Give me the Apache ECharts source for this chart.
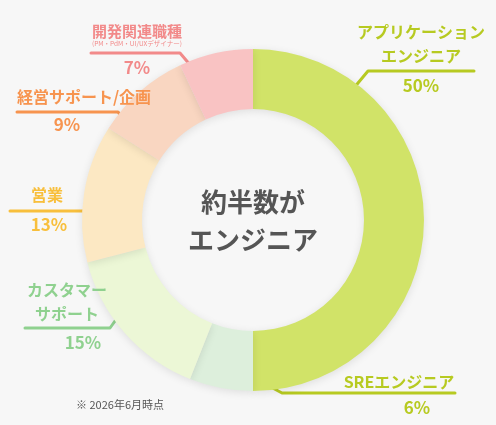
<!DOCTYPE html>
<html><head><meta charset="utf-8">
<script src="https://cdn.jsdelivr.net/npm/echarts@6/dist/echarts.min.js"></script>
<style>html,body{margin:0;padding:0;background:#f7f7f7}#c{width:496px;height:425px}</style>
</head><body><div id="c"></div><script>
// ---- data ----
const categories = ['アプリケーション\nエンジニア', 'SREエンジニア', 'カスタマー\nサポート', '営業', '経営サポート/企画', '開発関連職種'];
const subLabels = ['', '', '', '', '', '(PM・PdM・UI/UXデザイナー)'];
const values = [50, 6, 15, 13, 9, 7];
const centerText = ['約半数が', 'エンジニア'];
const noteText = '※ 2026年6月時点';

// ---- styles ----
const sliceColors = ['#d1e368', '#ddefdc', '#ecf7d6', '#fce8c3', '#f9d6c1', '#f9c3c3'];
const labelColors = ['#b7ca21', '#b7ca21', '#8fd18f', '#f8bf3c', '#f7944f', '#f28a8a'];
const FONT = '"Noto Sans CJK JP", "Noto Sans", sans-serif';
const labelPlace = [
  {x: 421, y: 20,  line: [[348, 95], [368, 71], [474, 71]],   gap: 6, pad: [0, 0, 0, 0]},
  {x: 399, y: 370, line: [[243, 372], [282, 393], [455, 393]], gap: 2, pad: [0, 0, 0, 36]},
  {x: 67,  y: 278, line: [[125, 307], [110, 328], [25, 328]],  gap: 5, pad: [0, 0, 0, 32]},
  {x: 47,  y: 183, line: [[103, 231], [87, 211], [10, 211]],   gap: 6, pad: [0, 0, 0, 4]},
  {x: 84,  y: 85,  line: [[134, 132], [118, 112], [17, 112]],  gap: 4, pad: [0, 34, 0, 0]},
  {x: 137, y: 22,  line: [[197, 73], [180, 53], [91, 53]],     gap: 8, pad: [0, 0, 0, 0]}
];

const chart = echarts.init(document.getElementById('c'), null, {renderer: 'canvas'});

const data = values.map((v, i) => {
  const c = labelColors[i];
  const small = i === 5;
  return {
    value: v,
    name: categories[i],
    itemStyle: {color: sliceColors[i]},
    labelLine: {lineStyle: {color: c}},
    label: {
      rich: {
        n: {fontFamily: FONT, fontSize: small ? 15 : 16, fontWeight: 'bold', color: c, lineHeight: small ? 18 : 24, align: 'center'},
        sub: {fontFamily: FONT, fontSize: 6.5, color: c, lineHeight: 8, align: 'center'},
        s: {fontSize: 1, lineHeight: labelPlace[i].gap, align: 'center'},
        p: {fontFamily: FONT, fontSize: 17, fontWeight: 'bold', color: c, lineHeight: 24, align: 'center', padding: labelPlace[i].pad}
      }
    }
  };
});

chart.setOption({
  backgroundColor: '#f7f7f7',
  animation: false,
  graphic: [
    {type: 'text', x: 253, y: 221, silent: true, style: {
      text: centerText.join('\n'), align: 'center', verticalAlign: 'middle',
      fontFamily: FONT, fontSize: 26, fontWeight: 'bold', lineHeight: 38, fill: '#555555'}},
    {type: 'text', x: 76, y: 405, silent: true, style: {
      text: noteText, align: 'left', verticalAlign: 'middle',
      fontFamily: FONT, fontSize: 11, fill: '#555555'}}
  ],
  series: [{
    type: 'pie',
    center: [253, 220],
    radius: [111, 171],
    startAngle: 90,
    clockwise: true,
    avoidLabelOverlap: false,
    emphasis: {disabled: true},
    itemStyle: {shadowBlur: 8, shadowColor: 'rgba(0,0,0,0.10)', shadowOffsetY: 2},
    label: {
      show: true,
      position: 'outside',
      formatter: function (p) {
        const i = p.dataIndex;
        let s = categories[i].split('\n').map(t => '{n|' + t + '}').join('\n');
        if (subLabels[i]) s += '\n{sub|' + subLabels[i] + '}';
        s += '\n{s| }\n{p|' + values[i] + '%}';
        return s;
      }
    },
    labelLine: {show: true, smooth: false, length: 10, length2: 10, lineStyle: {width: 3, cap: 'round', join: 'round'}},
    labelLayout: function (params) {
      const lp = labelPlace[params.dataIndex];
      return {x: lp.x, y: lp.y, align: 'center', verticalAlign: 'top', labelLinePoints: lp.line};
    },
    data: data
  }]
});
</script></body></html>
